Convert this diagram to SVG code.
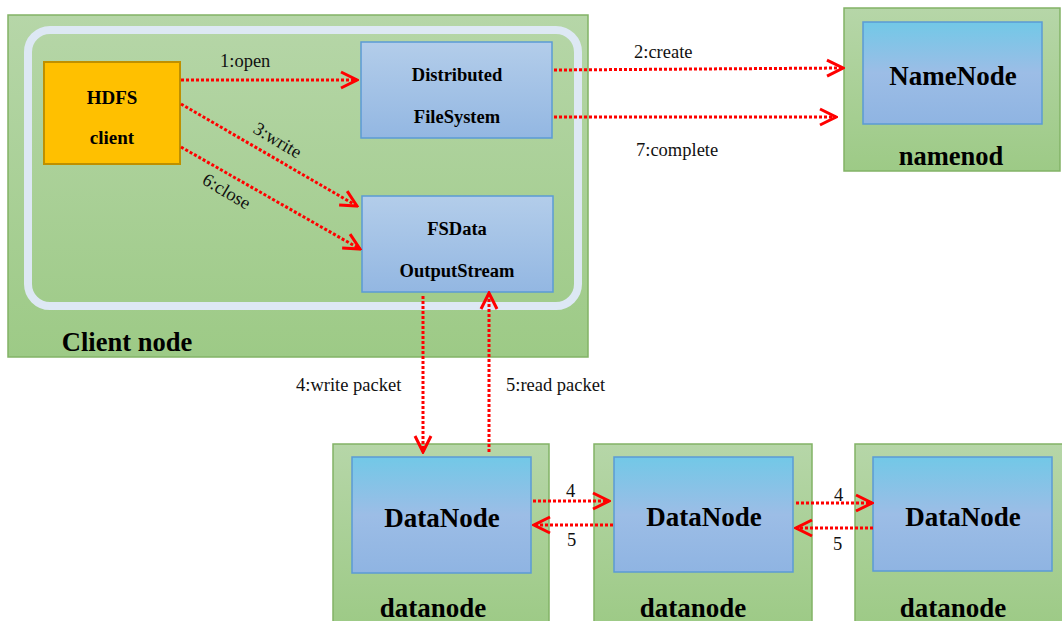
<svg xmlns="http://www.w3.org/2000/svg" width="1062" height="621" viewBox="0 0 1062 621">
  <defs>
    <linearGradient id="gGreen" x1="0" y1="0" x2="0" y2="1">
      <stop offset="0" stop-color="#b6d6a8"/>
      <stop offset="1" stop-color="#9dca86"/>
    </linearGradient>
    <linearGradient id="gBlue" x1="0" y1="0" x2="0" y2="1">
      <stop offset="0" stop-color="#b3cdea"/>
      <stop offset="1" stop-color="#93b7e2"/>
    </linearGradient>
    <linearGradient id="gCyan" x1="0" y1="0" x2="0" y2="1">
      <stop offset="0" stop-color="#72c8e7"/>
      <stop offset="0.5" stop-color="#9cbde6"/>
      <stop offset="1" stop-color="#8fb4e2"/>
    </linearGradient>
    <marker id="arr" markerUnits="userSpaceOnUse" viewBox="0 0 20 20" refX="18" refY="10" markerWidth="20" markerHeight="20" orient="auto">
      <path d="M2,2 L18,10 L2,18" fill="none" stroke="#ff0000" stroke-width="3"/>
    </marker>
    <style>
      .host { fill: url(#gGreen); stroke: #82b366; stroke-width: 1.5; }
      .svc { fill: url(#gBlue); stroke: #5b9bd5; stroke-width: 1.5; }
      .dn { fill: url(#gCyan); stroke: #5b9bd5; stroke-width: 1.5; }
      .b { font-family: "Liberation Serif", serif; font-weight: bold; fill: #000; text-anchor: middle; }
      .lbl { font-family: "Liberation Serif", serif; font-size: 18.5px; fill: #111; }
      .edge { fill: none; stroke: #ff0000; stroke-width: 3; stroke-dasharray: 3 2; marker-end: url(#arr); }
    </style>
  </defs>

  <!-- client host -->
  <g id="client-node">
    <rect class="host" x="8" y="15" width="580" height="342"/>
    <rect x="28" y="30" width="550" height="276" rx="22" ry="22" fill="none" stroke="#dde8f4" stroke-width="8"/>
    <text class="b" x="127" y="351" font-size="26.5">Client node</text>
  </g>

  <g id="hdfs-client">
    <rect x="44" y="62" width="136" height="102" fill="#ffc000" stroke="#bf9000" stroke-width="2"/>
    <text class="b" x="112" y="104" font-size="19">HDFS</text>
    <text class="b" x="112" y="144" font-size="19">client</text>
  </g>

  <g id="distributed-fs">
    <rect class="svc" x="361" y="42" width="191" height="96"/>
    <text class="b" x="457" y="81" font-size="18.5">Distributed</text>
    <text class="b" x="457" y="123" font-size="18.5">FileSystem</text>
  </g>

  <g id="fsdata-output">
    <rect class="svc" x="362" y="196" width="191" height="96"/>
    <text class="b" x="457" y="235" font-size="18.5">FSData</text>
    <text class="b" x="457" y="277" font-size="18.5">OutputStream</text>
  </g>

  <!-- name node host -->
  <g id="namenode">
    <rect class="host" x="844" y="8" width="216" height="163"/>
    <rect class="dn" x="863" y="22" width="179" height="102"/>
    <text class="b" x="953" y="85" font-size="27">NameNode</text>
    <text class="b" x="951" y="165" font-size="26.5">namenod</text>
  </g>

  <!-- data node hosts -->
  <g id="datanode-1">
    <rect class="host" x="333" y="444" width="216" height="182"/>
    <rect class="dn" x="352" y="457" width="179" height="116"/>
    <text class="b" x="442" y="527" font-size="27">DataNode</text>
    <text class="b" x="433" y="617" font-size="27">datanode</text>
  </g>

  <g id="datanode-2">
    <rect class="host" x="594" y="444" width="218" height="182"/>
    <rect class="dn" x="614" y="457" width="179" height="115"/>
    <text class="b" x="704" y="526" font-size="27">DataNode</text>
    <text class="b" x="693" y="617" font-size="27">datanode</text>
  </g>

  <g id="datanode-3">
    <rect class="host" x="855" y="444" width="216" height="182"/>
    <rect class="dn" x="873" y="457" width="179" height="114"/>
    <text class="b" x="963" y="526" font-size="27">DataNode</text>
    <text class="b" x="953" y="617" font-size="27">datanode</text>
  </g>

  <!-- connectors -->
  <g id="connectors">
    <path class="edge" d="M181,80 L357,80"/>
    <path class="edge" d="M181,104 L357,206"/>
    <path class="edge" d="M181,147 L360,249"/>
    <path class="edge" d="M554,70 L843,68"/>
    <path class="edge" d="M554,117 L836,117"/>
    <path class="edge" d="M423,296 L423,452"/>
    <path class="edge" d="M489,452 L489,293"/>
    <path class="edge" d="M533,501 L609,501"/>
    <path class="edge" d="M613,525 L534,525"/>
    <path class="edge" d="M796,503 L872,503"/>
    <path class="edge" d="M873,528 L796,528"/>

    <text class="lbl" x="220" y="67">1:open</text>
    <text class="lbl" x="0" y="0" transform="translate(252,132) rotate(31)">3:write</text>
    <text class="lbl" x="0" y="0" transform="translate(201,183) rotate(31)">6:close</text>
    <text class="lbl" x="634" y="58">2:create</text>
    <text class="lbl" x="636" y="156">7:complete</text>
    <text class="lbl" x="296" y="391">4:write packet</text>
    <text class="lbl" x="506" y="391">5:read packet</text>
    <text class="lbl" x="566" y="497">4</text>
    <text class="lbl" x="567" y="546">5</text>
    <text class="lbl" x="834" y="501">4</text>
    <text class="lbl" x="833" y="550">5</text>
  </g>
</svg>
